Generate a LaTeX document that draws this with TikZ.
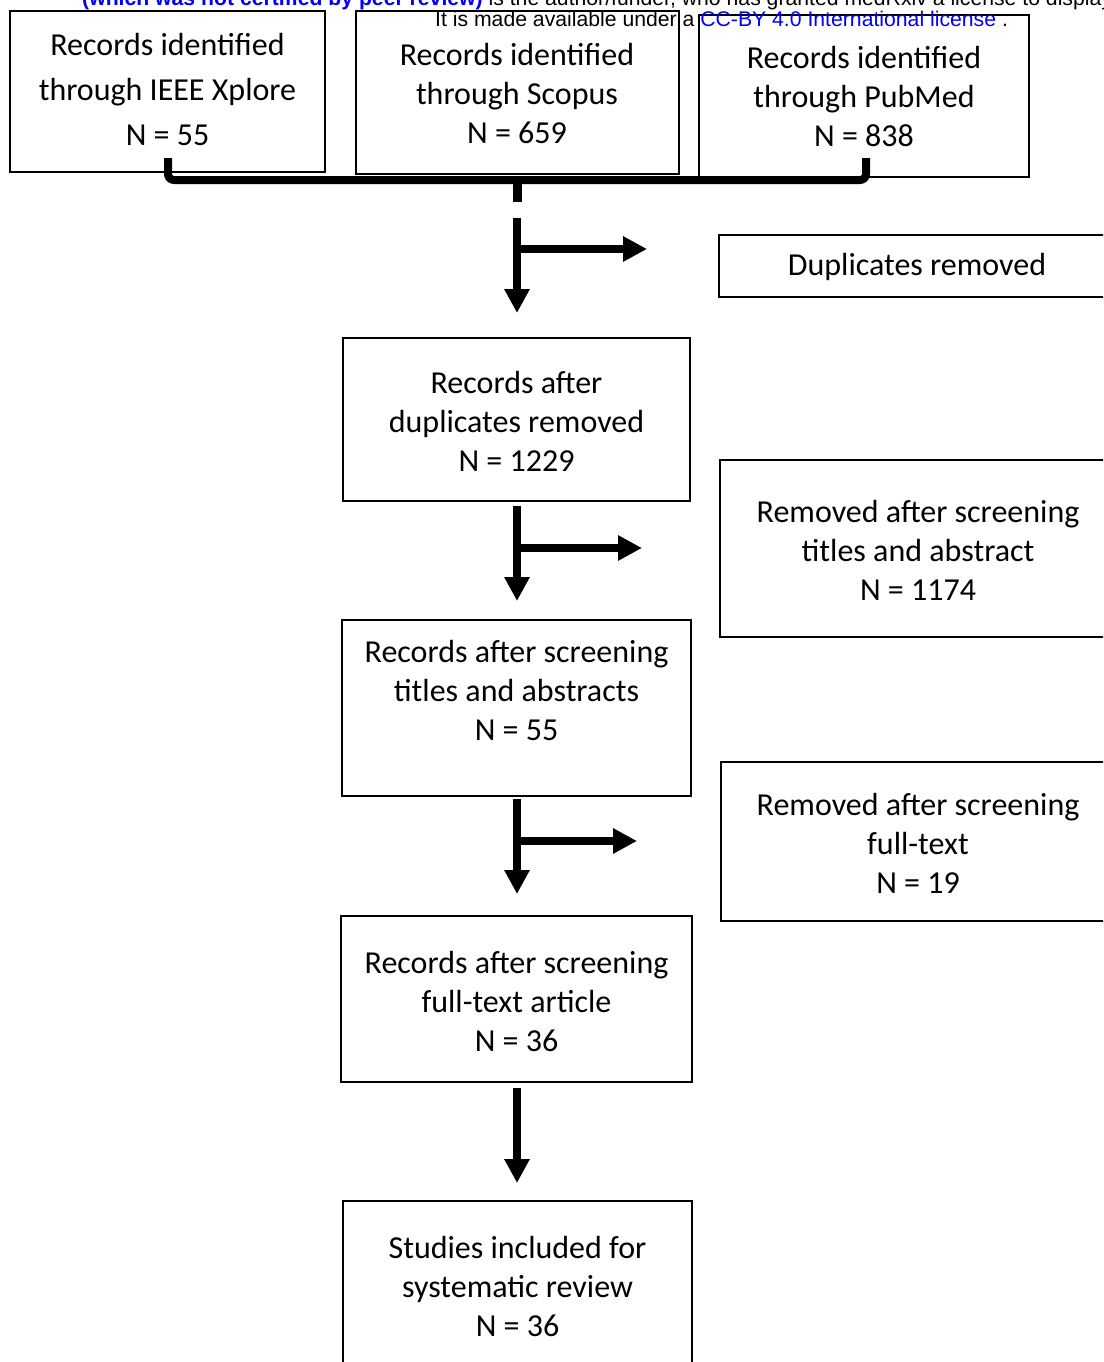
\documentclass[tikz,border=0pt]{standalone}
\usepackage{fontspec}
\setmainfont{Carlito}
\newfontfamily\arialfont{Liberation Sans}
\usetikzlibrary{arrows.meta,fit}
\begin{document}
\begin{tikzpicture}[x=1pt,y=-1pt,
  frame/.style={draw, line width=2.5pt, inner sep=0pt},
  txt/.style={align=center, inner sep=0pt, font=\fontsize{32}{39}\selectfont},
  txtwide/.style={align=center, inner sep=0pt, font=\fontsize{32}{45}\selectfont},
  flow/.style={line width=8pt, -{Triangle[length=24pt,width=24pt]}},
  hdr/.style={anchor=base west, inner sep=0pt, font=\arialfont\fontsize{21.2}{22}\selectfont}
]
\useasboundingbox (0,0) rectangle (1103,1362);
\clip (0,0) rectangle (1103,1362);

% top source boxes
\node[frame, fit={(10,11) (325,172)}] (ieee) {};
\node[txtwide] (ieeet) at (167.5,90) {Records identified\\through IEEE Xplore\\N = 55};
\node[frame, fit={(356,11) (679,174)}] (scop) {};
\node[txt] (scopt) at (517,94) {Records identified\\through Scopus\\N = 659};
\node[frame, fit={(699,15) (1029,177)}] (pubm) {};
\node[txt] (pubmt) at (864,97) {Records identified\\through PubMed\\N = 838};

% right-hand boxes
\node[frame, fit={(719,235) (1115,297)}] (dupr) {};
\node[txt] (duprt) at (917,267) {Duplicates removed};
\node[frame, fit={(720,460) (1116,637)}] (remta) {};
\node[txt] (remtat) at (918,550) {Removed after screening\\titles and abstract\\N = 1174};
\node[frame, fit={(721,762) (1117,921)}] (remft) {};
\node[txt] (remftt) at (918,843) {Removed after screening\\full-text\\N = 19};

% main column
\node[frame, fit={(343,338) (690,501)}] (afterdup) {};
\node[txt] (afterdupt) at (516.5,421) {Records after\\duplicates removed\\N = 1229};
\node[frame, fit={(342,620) (691,796)}] (afterta) {};
\node[txt] (aftertat) at (516.5,690) {Records after screening\\titles and abstracts\\N = 55};
\node[frame, fit={(341,916) (692,1082)}] (afterft) {};
\node[txt] (afterftt) at (516.5,1001) {Records after screening\\full-text article\\N = 36};
\node[frame, fit={(343,1201) (692,1375)}] (incl) {};
\node[txt] (inclt) at (517.5,1286) {Studies included for\\systematic review\\N = 36};

% bracket
\coordinate (bL) at (168,158);
\coordinate (bM) at (517,180);
\coordinate (bR) at (866,158);
\coordinate (bS) at (517,202);
\draw[line width=8pt, rounded corners=6pt] (bL) |- (bM) -| (bR);
\draw[line width=9pt] (bM) -- (bS);

% arrows
\coordinate (a1s) at (517,218);  \coordinate (a1e) at (517,313);
\coordinate (h1s) at (517,249);  \coordinate (h1e) at (647,249);
\coordinate (a2s) at (517,506);  \coordinate (a2e) at (517,601);
\coordinate (h2s) at (517,548);  \coordinate (h2e) at (642,548);
\coordinate (a3s) at (517,799);  \coordinate (a3e) at (517,894);
\coordinate (h3s) at (517,841);  \coordinate (h3e) at (637,841);
\coordinate (a4s) at (517,1088); \coordinate (a4e) at (517,1183);
\draw[flow] (a1s) -- (a1e);
\draw[flow] (h1s) -- (h1e);
\draw[flow] (a2s) -- (a2e);
\draw[flow] (h2s) -- (h2e);
\draw[flow] (a3s) -- (a3e);
\draw[flow] (h3s) -- (h3e);
\draw[flow] (a4s) -- (a4e);

% header text
\node[hdr] (hdr1) at (82,6) {\textcolor{blue}{\bfseries (which was not certified by peer review)} is the author/funder, who has granted medRxiv a license to display the preprint in perpetuity.};
\node[hdr] (hdr2) at (435,27) {It is made available under a \textcolor{blue}{CC-BY 4.0 International license} .};
\end{tikzpicture}
\end{document}
